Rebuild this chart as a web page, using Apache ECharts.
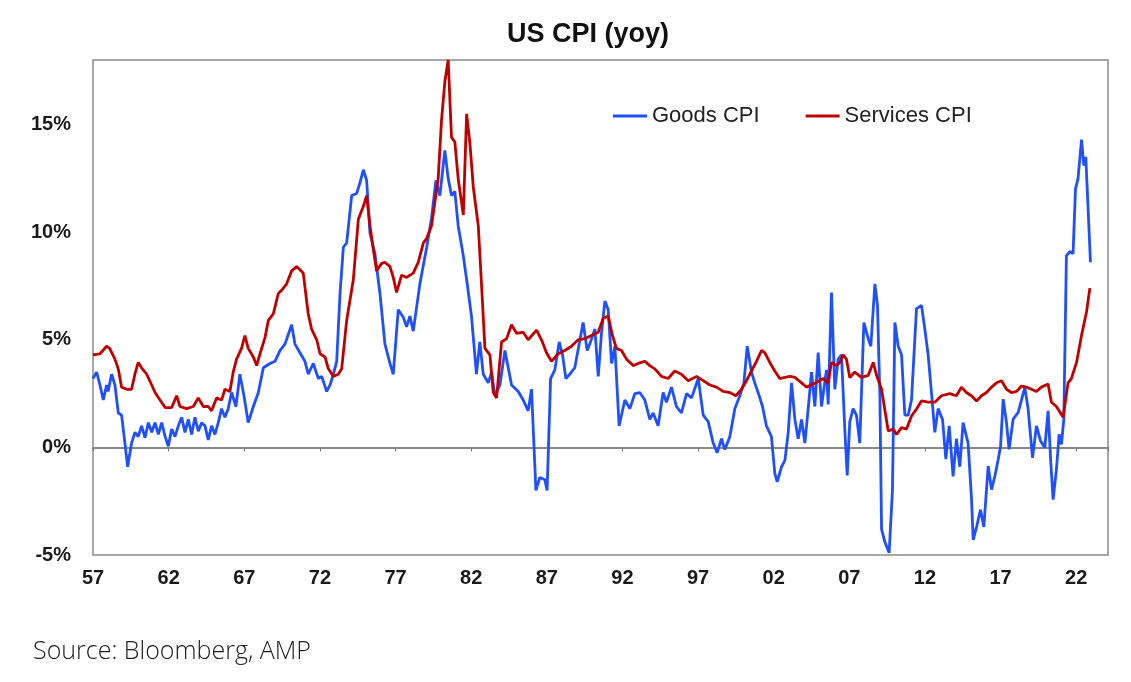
<!DOCTYPE html>
<html>
<head>
<meta charset="utf-8">
<script src="https://cdn.jsdelivr.net/npm/echarts@6/dist/echarts.min.js"></script>
<style>
  html, body { margin: 0; padding: 0; background: #fff; }
  #chart { width: 1131px; height: 682px; }
</style>
</head>
<body>
<div id="chart"></div>
<script>
// goods CPI yoy (decimal year, %)
var goodsYears = [
  1957.00, 1957.24, 1957.46, 1957.68, 1957.90, 1958.00, 1958.23, 1958.45, 1958.67, 1958.89,
  1959.11, 1959.29, 1959.55, 1959.77, 1959.99, 1960.21, 1960.44, 1960.66, 1960.88, 1961.10,
  1961.32, 1961.54, 1961.77, 1961.98, 1962.20, 1962.42, 1962.64, 1962.86, 1963.08, 1963.30,
  1963.52, 1963.74, 1963.96, 1964.18, 1964.40, 1964.62, 1964.84, 1965.06, 1965.28, 1965.50,
  1965.72, 1965.94, 1966.16, 1966.45, 1966.71, 1966.98, 1967.26, 1967.60, 1967.93, 1968.26,
  1968.70, 1969.03, 1969.36, 1969.69, 1970.13, 1970.35, 1970.68, 1971.01, 1971.23, 1971.56,
  1971.90, 1972.12, 1972.45, 1972.67, 1972.89, 1973.11, 1973.33, 1973.55, 1973.77, 1974.10,
  1974.43, 1974.65, 1974.87, 1975.09, 1975.31, 1975.64, 1975.97, 1976.30, 1976.63, 1976.85,
  1977.18, 1977.51, 1977.73, 1977.95, 1978.17, 1978.61, 1979.06, 1979.38, 1979.67, 1979.93,
  1980.26, 1980.48, 1980.70, 1980.92, 1981.14, 1981.48, 1981.69, 1982.02, 1982.35, 1982.57,
  1982.80, 1983.13, 1983.35, 1983.57, 1983.90, 1984.23, 1984.67, 1985.11, 1985.44, 1985.77,
  1985.99, 1986.28, 1986.54, 1986.87, 1987.02, 1987.25, 1987.53, 1987.82, 1988.04, 1988.26,
  1988.52, 1988.85, 1989.14, 1989.40, 1989.67, 1989.84, 1990.18, 1990.40, 1990.62, 1990.84,
  1991.06, 1991.28, 1991.50, 1991.78, 1992.16, 1992.49, 1992.82, 1993.15, 1993.48, 1993.81,
  1994.03, 1994.36, 1994.69, 1994.91, 1995.24, 1995.57, 1995.90, 1996.24, 1996.57, 1997.01,
  1997.34, 1997.67, 1998.00, 1998.26, 1998.55, 1998.77, 1999.10, 1999.43, 1999.76, 2000.03,
  2000.25, 2000.53, 2000.75, 2001.04, 2001.26, 2001.52, 2001.85, 2002.07, 2002.23, 2002.52,
  2002.74, 2002.96, 2003.18, 2003.40, 2003.62, 2003.84, 2004.06, 2004.28, 2004.50, 2004.72,
  2004.94, 2005.16, 2005.49, 2005.60, 2005.82, 2006.04, 2006.26, 2006.48, 2006.70, 2006.86,
  2007.03, 2007.25, 2007.47, 2007.69, 2007.96, 2008.25, 2008.42, 2008.69, 2008.86, 2009.02,
  2009.13, 2009.35, 2009.63, 2009.85, 2010.01, 2010.23, 2010.45, 2010.67, 2010.89, 2011.11,
  2011.44, 2011.77, 2011.99, 2012.21, 2012.43, 2012.65, 2012.87, 2013.16, 2013.38, 2013.60,
  2013.86, 2014.08, 2014.30, 2014.52, 2014.85, 2015.07, 2015.19, 2015.41, 2015.67, 2015.89,
  2016.18, 2016.40, 2016.62, 2016.84, 2017.00, 2017.17, 2017.39, 2017.56, 2017.83, 2018.16,
  2018.60, 2018.82, 2019.11, 2019.37, 2019.64, 2019.92, 2020.14, 2020.32, 2020.47, 2020.69,
  2020.87, 2021.02, 2021.18, 2021.35, 2021.57, 2021.79, 2021.95, 2022.12, 2022.35, 2022.50,
  2022.63, 2022.79, 2022.94
];
var goodsCPI = [
  3.2, 3.5, 2.9, 2.2, 2.9, 2.6, 3.4, 2.9, 1.6, 1.5,
  0.2, -0.9, 0.2, 0.7, 0.5, 1.0, 0.45, 1.15, 0.7, 1.15,
  0.6, 1.15, 0.5, 0.05, 0.85, 0.5, 1.0, 1.4, 0.7, 1.3,
  0.6, 1.4, 0.75, 1.15, 1.0, 0.35, 1.0, 0.6, 1.15, 1.8,
  1.4, 1.8, 2.55, 1.9, 3.4, 2.4, 1.15, 1.9, 2.55, 3.7,
  3.9, 4.0, 4.5, 4.8, 5.7, 4.8, 4.4, 4.0, 3.4, 3.9,
  3.2, 3.3, 2.6, 2.9, 3.4, 4.0, 7.15, 9.3, 9.5, 11.7,
  11.8, 12.3, 12.9, 12.4, 9.95, 9.0, 7.15, 4.8, 3.9, 3.4,
  6.4, 6.05, 5.6, 6.1, 5.4, 7.6, 9.3, 10.65, 12.4, 11.7,
  13.8, 12.5, 11.7, 11.9, 10.3, 8.9, 7.85, 6.1, 3.4, 4.9,
  3.4, 3.0, 3.5, 2.4, 2.9, 4.5, 2.9, 2.6, 2.2, 1.7,
  2.7, -2.0, -1.4, -1.5, -2.0, 3.2, 3.6, 4.9, 4.3, 3.2,
  3.4, 3.7, 4.8, 5.8, 4.5, 4.8, 5.5, 3.3, 5.35, 6.8,
  6.4, 3.9, 4.7, 1.0, 2.2, 1.8, 2.5, 2.55, 2.2, 1.3,
  1.6, 1.0, 2.55, 2.1, 2.8, 1.9, 1.6, 2.5, 2.3, 3.2,
  1.5, 1.2, 0.2, -0.25, 0.4, -0.1, 0.5, 1.8, 2.4, 3.0,
  4.7, 3.5, 3.0, 2.4, 1.9, 1.0, 0.5, -1.2, -1.6, -0.9,
  -0.6, 0.7, 3.0, 1.3, 0.4, 1.3, 0.2, 1.8, 3.5, 1.9,
  4.4, 1.9, 3.6, 2.0, 7.2, 2.7, 4.1, 4.3, 0.85, -1.3,
  1.2, 1.8, 1.5, 0.2, 5.8, 5.05, 4.7, 7.6, 6.6, 2.4,
  -3.8, -4.4, -4.9, -2.0, 5.8, 4.7, 4.3, 1.5, 1.5, 2.2,
  6.45, 6.6, 5.5, 4.3, 2.55, 0.7, 1.8, 1.3, -0.55, 1.0,
  -1.35, 0.4, -0.9, 1.15, 0.2, -2.3, -4.3, -3.7, -2.9, -3.7,
  -0.87, -1.96, -1.34, -0.56, 0.06, 2.24, 1.15, -0.09, 1.31, 1.62,
  2.79, 1.78, -0.48, 1.0, 0.3, -0.02, 1.7, -0.72, -2.43, -1.03,
  0.61, 0.14, 1.31, 8.9, 9.1, 9.0, 12.0, 12.5, 14.3, 13.1,
  13.5, 11.0, 8.6
];

// services CPI yoy
var servicesYears = [
  1957.00, 1957.46, 1957.90, 1958.10, 1958.45, 1958.67, 1958.89, 1959.22, 1959.55, 1959.77,
  1959.99, 1960.21, 1960.55, 1960.88, 1961.10, 1961.43, 1961.77, 1962.20, 1962.53, 1962.75,
  1963.19, 1963.63, 1963.96, 1964.29, 1964.62, 1964.84, 1965.17, 1965.50, 1965.72, 1966.05,
  1966.27, 1966.49, 1966.82, 1967.04, 1967.26, 1967.60, 1967.82, 1968.04, 1968.37, 1968.59,
  1968.92, 1969.25, 1969.47, 1969.80, 1970.13, 1970.46, 1970.90, 1971.23, 1971.45, 1971.79,
  1972.01, 1972.34, 1972.56, 1972.89, 1973.22, 1973.44, 1973.77, 1974.21, 1974.54, 1974.87,
  1975.09, 1975.31, 1975.53, 1975.75, 1976.08, 1976.30, 1976.63, 1976.85, 1977.07, 1977.40,
  1977.73, 1978.17, 1978.50, 1978.84, 1979.05, 1979.38, 1979.60, 1979.82, 1980.04, 1980.26,
  1980.48, 1980.70, 1980.92, 1981.14, 1981.48, 1981.70, 1981.92, 1982.14, 1982.47, 1982.69,
  1982.91, 1983.24, 1983.46, 1983.68, 1984.01, 1984.34, 1984.67, 1985.00, 1985.44, 1985.77,
  1986.32, 1986.65, 1986.98, 1987.31, 1987.75, 1988.19, 1988.63, 1989.07, 1989.51, 1989.95,
  1990.40, 1990.73, 1991.06, 1991.34, 1991.60, 1991.94, 1992.27, 1992.71, 1993.04, 1993.48,
  1993.81, 1994.14, 1994.58, 1995.02, 1995.46, 1995.90, 1996.35, 1996.90, 1997.34, 1997.78,
  1998.22, 1998.66, 1999.10, 1999.50, 1999.87, 2000.20, 2000.53, 2000.86, 2001.19, 2001.41,
  2001.74, 2002.07, 2002.40, 2002.74, 2003.07, 2003.40, 2003.84, 2004.17, 2004.61, 2005.05,
  2005.27, 2005.60, 2005.82, 2006.15, 2006.37, 2006.59, 2006.81, 2007.03, 2007.36, 2007.80,
  2008.25, 2008.58, 2008.80, 2009.13, 2009.57, 2009.90, 2010.12, 2010.45, 2010.78, 2011.11,
  2011.44, 2011.77, 2012.21, 2012.65, 2013.09, 2013.64, 2014.08, 2014.41, 2014.74, 2015.07,
  2015.41, 2015.74, 2016.07, 2016.40, 2016.73, 2017.06, 2017.39, 2017.72, 2018.05, 2018.38,
  2018.71, 2019.04, 2019.37, 2019.70, 2020.14, 2020.36, 2020.69, 2021.13, 2021.46, 2021.68,
  2022.02, 2022.35, 2022.68, 2022.90
];
var servicesCPI = [
  4.3, 4.35, 4.7, 4.6, 4.1, 3.65, 2.8, 2.7, 2.7, 3.4,
  3.95, 3.7, 3.4, 2.9, 2.55, 2.2, 1.85, 1.85, 2.4, 1.9,
  1.8, 1.9, 2.3, 1.9, 1.9, 1.7, 2.3, 2.2, 2.7, 2.6,
  3.5, 4.1, 4.6, 5.2, 4.6, 4.2, 3.8, 4.35, 5.1, 5.9,
  6.2, 7.15, 7.3, 7.6, 8.2, 8.4, 8.1, 6.2, 5.5, 5.0,
  4.35, 4.2, 3.65, 3.3, 3.4, 3.65, 5.9, 7.8, 10.6, 11.2,
  11.7, 10.3, 9.2, 8.2, 8.55, 8.6, 8.4, 7.9, 7.2, 8.0,
  7.9, 8.1, 8.6, 9.5, 9.7, 10.3, 11.4, 12.5, 15.2, 17.0,
  18.0, 14.4, 14.2, 12.5, 10.8, 15.5, 14.1, 12.1, 10.3, 7.5,
  4.6, 4.3, 2.55, 2.3, 4.9, 5.05, 5.7, 5.3, 5.35, 5.0,
  5.45, 5.0, 4.4, 4.0, 4.35, 4.5, 4.7, 5.0, 5.05, 5.2,
  5.35, 6.0, 6.1, 5.2, 4.6, 4.5, 4.1, 3.8, 3.9, 4.0,
  3.8, 3.65, 3.3, 3.2, 3.55, 3.4, 3.1, 3.3, 3.1, 2.9,
  2.8, 2.6, 2.55, 2.4, 2.7, 3.1, 3.55, 4.0, 4.5, 4.4,
  3.95, 3.55, 3.2, 3.25, 3.3, 3.25, 3.0, 2.8, 2.95, 3.1,
  3.2, 3.0, 3.95, 3.8, 3.95, 4.3, 4.1, 3.25, 3.5, 3.25,
  3.35, 3.95, 3.35, 2.7, 0.76, 0.85, 0.6, 0.92, 0.85, 1.46,
  1.78, 2.16, 2.1, 2.1, 2.4, 2.5, 2.4, 2.8, 2.55, 2.4,
  2.16, 2.4, 2.55, 2.8, 3.0, 3.1, 2.7, 2.55, 2.6, 2.85,
  2.8, 2.7, 2.6, 2.8, 2.95, 2.1, 1.9, 1.4, 3.0, 3.2,
  3.95, 5.2, 6.3, 7.4
];

var startYear = 1957;
var yTicks = [-5, 0, 5, 10, 15];

function pairs(years, vals) {
  var out = [];
  for (var i = 0; i < years.length; i++) out.push([years[i] - startYear, vals[i]]);
  return out;
}

var labelFont = 'Liberation Sans, Arial, sans-serif';
var myChart = echarts.init(document.getElementById('chart'));
var option = {
  animation: false,
  backgroundColor: '#fff',
  title: {
    text: 'US CPI (yoy)',
    left: 583,
    top: 16,
    textAlign: 'center',
    textStyle: { fontFamily: labelFont, fontSize: 27, fontWeight: 'bold', color: '#111' }
  },
  legend: {
    left: 608,
    top: 100,
    icon: 'rect',
    itemWidth: 34,
    itemHeight: 3,
    itemGap: 46,
    textStyle: { fontFamily: labelFont, fontSize: 22, color: '#222' },
    data: ['Goods CPI', 'Services CPI']
  },
  grid: {
    left: 93, right: 23, top: 60, bottom: 127,
    show: true, borderColor: '#8a8a8a', borderWidth: 1.5
  },
  xAxis: [
    {
      type: 'value', min: 0, max: 67.1, interval: 5,
      position: 'bottom',
      axisLine: { show: false, onZero: false },
      axisTick: { show: false },
      splitLine: { show: false },
      axisLabel: {
        margin: 13, showMaxLabel: false,
        fontFamily: labelFont, fontSize: 20, fontWeight: 'bold', color: '#1a1a1a',
        formatter: function (v) { return String((startYear + v) % 100).padStart(2, '0'); }
      }
    },
    {
      type: 'value', min: 0, max: 67.1, interval: 5,
      position: 'top',
      axisLine: { show: true, onZero: true, lineStyle: { color: '#8a8a8a', width: 2 } },
      axisTick: { show: true, inside: true, length: 4, lineStyle: { color: '#777', width: 1 } },
      axisLabel: { show: false },
      splitLine: { show: false }
    }
  ],
  yAxis: {
    type: 'value', min: yTicks[0], max: 18, interval: 5,
    axisLine: { show: false },
    axisTick: { show: false },
    splitLine: { show: false },
    axisLabel: {
      margin: 22, showMaxLabel: false,
      fontFamily: labelFont, fontSize: 20, fontWeight: 'bold', color: '#1a1a1a',
      formatter: '{value}%'
    }
  },
  series: [
    {
      name: 'Goods CPI', type: 'line', xAxisIndex: 0,
      showSymbol: false, symbol: 'none',
      lineStyle: { color: '#1f4fff', width: 2.8 },
      itemStyle: { color: '#1f4fff' },
      data: pairs(goodsYears, goodsCPI)
    },
    {
      name: 'Services CPI', type: 'line', xAxisIndex: 0,
      showSymbol: false, symbol: 'none',
      lineStyle: { color: '#c00000', width: 2.8 },
      itemStyle: { color: '#c00000' },
      data: pairs(servicesYears, servicesCPI)
    }
  ],
  graphic: [
    {
      type: 'text', left: 33, top: 639,
      style: {
        text: 'Source: Bloomberg, AMP',
        font: '300 25px "Open Sans", sans-serif',
        fill: '#222'
      }
    }
  ]
};
myChart.setOption(option);
window.addEventListener('resize', function () {
  myChart.resize();
});
</script>
</body>
</html>
